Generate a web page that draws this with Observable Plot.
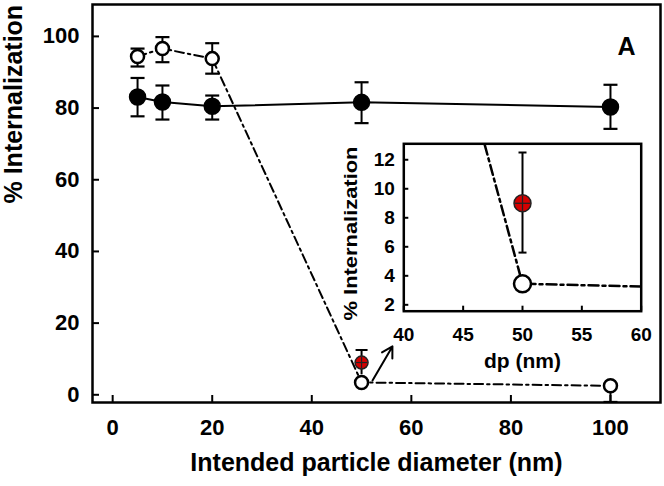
<!DOCTYPE html>
<html><head><meta charset="utf-8">
<script src="https://cdn.jsdelivr.net/npm/d3@7"></script>
<script src="https://cdn.jsdelivr.net/npm/@observablehq/plot@0.6"></script>
<style>
html,body{margin:0;padding:0;background:#fff;}
#wrap{position:relative;width:664px;height:486px;overflow:hidden;background:#fff;}
#inset{position:absolute;left:330px;top:130px;}
</style></head><body><div id="wrap"><div id="main"></div><div id="inset"></div></div>
<script>
// ---- data ----
const sizes = [5, 10, 20, 50, 100];
const closedMean = [83.1, 81.7, 80.5, 81.6, 80.3];
const closedLo = [77.7, 76.8, 76.8, 75.8, 74.2];
const closedHi = [88.4, 86.3, 83.5, 87.2, 86.5];
const openMean = [94.4, 96.6, 93.8, 3.45, 2.5];
const openLo = [91.6, 92.8, 89.6, null, -2.0];
const openHi = [96.6, 99.8, 98.1, null, 2.5];
const redX = [50];
const redMean = [9.0];
const redLo = [5.6];
const redHi = [12.5];
const arrowFrom = [52.2, 4.0];
const arrowTo = [56.2, 13.5];
const xTicks = [0, 20, 40, 60, 80, 100];
const yTicks = [0, 20, 40, 60, 80, 100];
const insetXTicks = [40, 45, 50, 55, 60];
const insetYTicks = [2, 4, 6, 8, 10, 12];
const yLabel = "% Internalization";
const xLabel = "Intended particle diameter (nm)";
const insetXLabel = "dp (nm)";
const panelLabel = "A";

// ---- helpers ----
const font = "'Liberation Sans', Arial, Helvetica, sans-serif";
const hbar = {draw(ctx, size){const r = Math.sqrt(size/Math.PI); ctx.moveTo(-r,0); ctx.lineTo(r,0);}};
const vbar = {draw(ctx, size){const r = Math.sqrt(size/Math.PI); ctx.moveTo(0,-r); ctx.lineTo(0,r);}};
const closed = sizes.map((x,i)=>({x, y: closedMean[i], lo: closedLo[i], hi: closedHi[i]}));
const open = sizes.map((x,i)=>({x, y: openMean[i], lo: openLo[i], hi: openHi[i]}));
const openBars = open.filter(d => d.lo != null);
const red = redX.map((x,i)=>({x, y: redMean[i], lo: redLo[i], hi: redHi[i]}));
const arrows = [{x1: arrowFrom[0], y1: arrowFrom[1], x2: arrowTo[0], y2: arrowTo[1]}];

// ---- main chart ----
const W = 664, H = 486, mL = 92, mR = 4, mT = 4, mB = 84;
const innerW = W - mL - mR, innerH = H - mT - mB;
const main = Plot.plot({
  width: W, height: H, marginLeft: mL, marginRight: mR, marginTop: mT, marginBottom: mB,
  style: {fontFamily: font, fontWeight: "bold", fontSize: "22px", background: "white", color: "black"},
  x: {domain: [-4.05, 110.05], ticks: xTicks, tickSize: 0, tickPadding: 17, label: null},
  y: {domain: [-2.15, 108.9], ticks: yTicks, tickSize: 0, tickPadding: 13, label: null},
  marks: [
    Plot.tickX(xTicks, {x: d => d, insetTop: innerH - 7, stroke: "black", strokeWidth: 2}),
    Plot.tickY(yTicks, {y: d => d, insetRight: innerW - 7, stroke: "black", strokeWidth: 2}),
    Plot.ruleX(closed, {x: "x", y1: "lo", y2: "hi", stroke: "black", strokeWidth: 2}),
    Plot.dot(closed, {x: "x", y: "lo", symbol: hbar, r: 7, stroke: "black", strokeWidth: 2.2, fill: "none"}),
    Plot.dot(closed, {x: "x", y: "hi", symbol: hbar, r: 7, stroke: "black", strokeWidth: 2.2, fill: "none"}),
    Plot.ruleX(openBars, {x: "x", y1: "lo", y2: "hi", stroke: "black", strokeWidth: 2}),
    Plot.dot(openBars, {x: "x", y: "lo", symbol: hbar, r: 7, stroke: "black", strokeWidth: 2.2, fill: "none"}),
    Plot.dot(openBars, {x: "x", y: "hi", symbol: hbar, r: 7, stroke: "black", strokeWidth: 2.2, fill: "none"}),
    Plot.ruleX(red, {x: "x", y1: "lo", y2: "hi", stroke: "black", strokeWidth: 2}),
    Plot.dot(red, {x: "x", y: "hi", symbol: hbar, r: 6, stroke: "black", strokeWidth: 2, fill: "none"}),
    Plot.line(closed, {x: "x", y: "y", stroke: "black", strokeWidth: 2}),
    Plot.line(open, {x: "x", y: "y", stroke: "black", strokeWidth: 2, strokeDasharray: "9,4,2.5,4"}),
    Plot.arrow(arrows, {x1: "x1", y1: "y1", x2: "x2", y2: "y2", stroke: "black", strokeWidth: 2, headLength: 9}),
    Plot.dot(closed, {x: "x", y: "y", r: 8, fill: "black", stroke: "black"}),
    Plot.dot(open, {x: "x", y: "y", r: 6.5, fill: "white", stroke: "black", strokeWidth: 2.5}),
    Plot.dot(red, {x: "x", y: "y", r: 6.5, fill: "#d40000", stroke: "#222", strokeWidth: 1.5}),
    Plot.dot(red, {x: "x", y: "y", symbol: hbar, r: 5.5, stroke: "#222", strokeWidth: 1.2, fill: "none"}),
    Plot.dot(red, {x: "x", y: "y", symbol: vbar, r: 5.5, stroke: "#222", strokeWidth: 1.2, fill: "none"}),
    Plot.frame({stroke: "black", strokeWidth: 2.5}),
    Plot.text([panelLabel], {text: d => d, frameAnchor: "top-right", dx: -25, dy: 33, fontSize: 25, fontWeight: "bold", fill: "black"}),
    Plot.text([yLabel], {text: d => d, frameAnchor: "left", rotate: -90, dx: -78.7, fontSize: 25, fontWeight: "bold", fill: "black"}),
    Plot.text([xLabel], {text: d => d, frameAnchor: "bottom", dy: 68, fontSize: 25, fontWeight: "bold", fill: "black"})
  ]
});
document.getElementById("main").appendChild(main);

// ---- inset chart ----
const iW = 334, iH = 250, iL = 73.3, iR = 23.3, iT = 13.3, iB = 69.3;
const iInnerW = iW - iL - iR, iInnerH = iH - iT - iB;
const inset = Plot.plot({
  width: iW, height: iH, marginLeft: iL, marginRight: iR, marginTop: iT, marginBottom: iB,
  style: {fontFamily: font, fontWeight: "bold", fontSize: "19px", background: "transparent", color: "black", overflow: "visible"},
  x: {domain: [40, 60], ticks: insetXTicks, tickSize: 0, tickPadding: 16, label: null},
  y: {domain: [1.56, 13.1], ticks: insetYTicks, tickSize: 0, tickPadding: 9, label: null},
  marks: [
    Plot.frame({fill: "white", stroke: "none"}),
    Plot.tickX(insetXTicks, {x: d => d, insetTop: iInnerH - 5, stroke: "black", strokeWidth: 2}),
    Plot.tickY(insetYTicks, {y: d => d, insetRight: iInnerW - 5, stroke: "black", strokeWidth: 2}),
    Plot.line(open, {x: "x", y: "y", stroke: "black", strokeWidth: 2.5, strokeDasharray: "10,4,3,4", clip: true}),
    Plot.ruleX(red, {x: "x", y1: "lo", y2: "hi", stroke: "black", strokeWidth: 2}),
    Plot.dot(red, {x: "x", y: "lo", symbol: hbar, r: 4, stroke: "black", strokeWidth: 2, fill: "none"}),
    Plot.dot(red, {x: "x", y: "hi", symbol: hbar, r: 4, stroke: "black", strokeWidth: 2, fill: "none"}),
    Plot.dot(open, {x: "x", y: "y", r: 8.5, fill: "white", stroke: "black", strokeWidth: 2.5, clip: true}),
    Plot.dot(red, {x: "x", y: "y", r: 8.5, fill: "#d40000", stroke: "#222", strokeWidth: 1.5}),
    Plot.dot(red, {x: "x", y: "y", symbol: hbar, r: 7.5, stroke: "#222", strokeWidth: 1.3, fill: "none"}),
    Plot.dot(red, {x: "x", y: "y", symbol: vbar, r: 7.5, stroke: "#222", strokeWidth: 1.3, fill: "none"}),
    Plot.frame({stroke: "black", strokeWidth: 2.5}),
    Plot.text([insetXLabel], {text: d => d, frameAnchor: "bottom", dy: 57, fontSize: 21, fontWeight: "bold", fill: "black"}),
    Plot.text([yLabel], {text: d => d, frameAnchor: "left", rotate: -90, textAnchor: "start", dx: -53.3, dy: 93, fontSize: 19, fontWeight: "bold", fill: "black"})
  ]
});
document.getElementById("inset").appendChild(inset);
d3.select(inset).selectAll("text").filter(function(){ return this.textContent === yLabel; })
  .attr("textLength", 174).attr("lengthAdjust", "spacingAndGlyphs");
</script></body></html>
